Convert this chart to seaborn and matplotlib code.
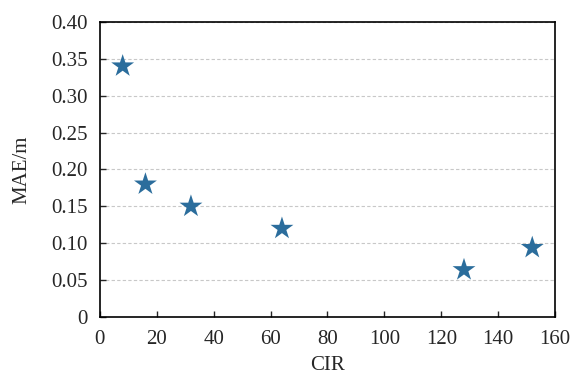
import seaborn as sns
import matplotlib.pyplot as plt
import pandas as pd

# values
cir = [8, 16, 32, 64, 128, 152]
mae = [0.340, 0.180, 0.150, 0.120, 0.064, 0.094]

df = pd.DataFrame({'CIR': cir, 'MAE/m': mae})

sns.set_style('ticks')
plt.rcParams['font.family'] = ['Liberation Serif', 'DejaVu Serif']
plt.rcParams['font.size'] = 15

fig, ax = plt.subplots(figsize=(5.71, 3.83), dpi=100)
sns.scatterplot(data=df, x='CIR', y='MAE/m', marker='*', s=300,
                color='#2b6d9c', edgecolor='none', ax=ax, zorder=3)

ax.set_xlim(0, 160)
ax.set_ylim(0, 0.40)
ax.set_xticks(range(0, 161, 20))
ax.set_yticks([0, 0.05, 0.10, 0.15, 0.20, 0.25, 0.30, 0.35, 0.40])
ax.set_yticklabels(['0', '0.05', '0.10', '0.15', '0.20', '0.25', '0.30', '0.35', '0.40'])
ax.tick_params(direction='in', length=4, width=1, labelsize=15, pad=9)
ax.yaxis.grid(True, linestyle=(0, (3, 2)), color='#c8c8c8', linewidth=0.8)
for sp in ax.spines.values():
    sp.set_linewidth(1.2)
    sp.set_color('black')
ax.set_xlabel('CIR', fontsize=15, labelpad=5)
ax.set_ylabel('MAE/m', fontsize=15, labelpad=14)

plt.subplots_adjust(left=0.175, right=0.972, top=0.943, bottom=0.172)
plt.savefig('out.png', dpi=100)
